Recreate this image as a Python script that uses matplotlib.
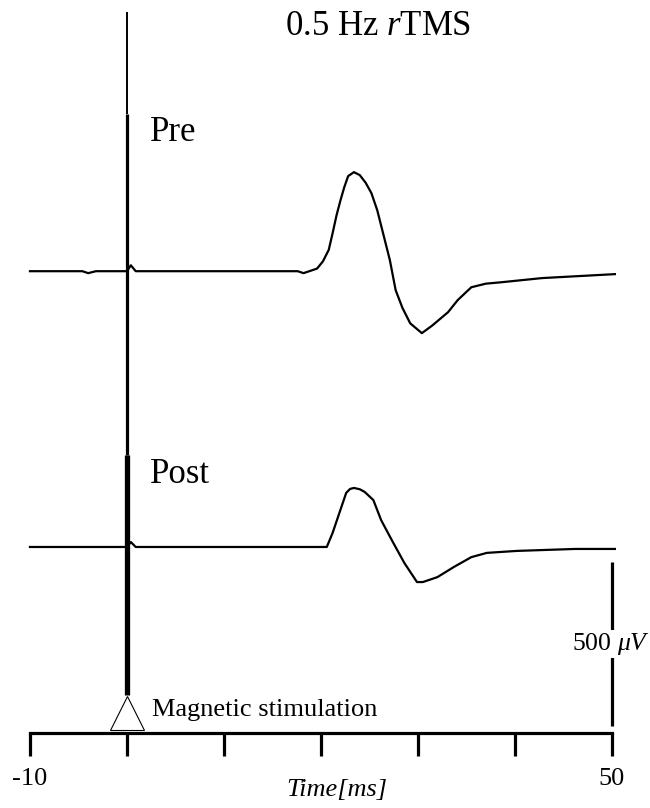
import numpy as np
import matplotlib
matplotlib.use("Agg")
import matplotlib.pyplot as plt

plt.rcParams['font.family'] = ['Liberation Serif', 'DejaVu Serif']
plt.rcParams['mathtext.fontset'] = 'custom'
plt.rcParams['mathtext.rm'] = 'Liberation Serif'
plt.rcParams['mathtext.it'] = 'Liberation Serif:italic'

# MEP traces (time in ms, amplitude in uV, relative to own baseline)
pre_t = [-10, -4.6, -4.0, -3.2, 0, 0.4, 0.9, 17.6, 18.2, 18.8, 19.6, 20.2, 20.8,
         21.2, 21.6, 22.0, 22.4, 22.8, 23.4, 24.0, 24.6, 25.2, 25.8, 26.4, 27.1,
         27.7, 28.4, 29.2, 30.4, 31.5, 32.3, 33.1, 34.1, 35.5, 37.0, 38.5, 42.8, 50.3]
pre_uv = [0, 0, -6, 0, 0, 18, 0, 0, -6, 0, 8, 30, 65,
          116, 170, 215, 256, 290, 302, 293, 270, 238, 186, 116, 34,
          -58, -112, -159, -189, -165, -145, -125, -88, -49, -38, -34, -21, -9]

post_t = [-10, 0, 0.4, 0.9, 20.6, 21.2, 21.9, 22.6, 23.0, 23.4, 24.0, 24.5, 25.4,
          26.2, 27.3, 28.6, 29.9, 30.5, 32.0, 33.7, 35.5, 37.1, 40.2, 46.2, 50.3]
post_uv = [0, 0, 15, 0, 0, 43, 104, 165, 177, 180, 176, 168, 143,
           82, 21, -49, -107, -107, -92, -61, -31, -18, -12, -6, -6]

pre_offset = 841      # vertical offset of the Pre trace (uV)
post_offset = 0
axis_level = -567     # where the time axis sits
xticks = [-10, 0, 10, 20, 30, 40, 50]
xticklabels = ['-10', '', '', '', '', '', '50']

# stimulus artifact: level boundaries and line widths of each piece
stim_levels = [1630, 1320, 280, -451]
stim_widths = [1.4, 2.3, 3.8]

scale_uv = 500
scale_bottom = -546

fig = plt.figure(figsize=(6.5, 8.08), dpi=100)
ax = fig.add_axes([0, 0, 1, 1])
ax.set_xlim(-13.09, 53.92)
ax.set_ylim(-796, 1668)

ax.plot(pre_t, np.array(pre_uv) + pre_offset, color='black', lw=1.6)
ax.plot(post_t, np.array(post_uv) + post_offset, color='black', lw=1.6)

for i in range(len(stim_widths)):
    ax.vlines(0, stim_levels[i + 1], stim_levels[i], color='black', lw=stim_widths[i])

# stimulus marker
ax.plot(0, -506, marker='^', markersize=25, mfc='white', mec='black', mew=0.8,
        zorder=5)
ax.text(2.58, -497, 'Magnetic stimulation', fontsize=19, va='center', ha='left')

# scale bar
ax.vlines(50, scale_bottom, scale_bottom + scale_uv, color='black', lw=2.3)
ax.text(49.9, scale_bottom + scale_uv / 2, r'500 $\mu V$', fontsize=18.5,
        ha='center', va='center',
        bbox=dict(facecolor='white', edgecolor='none', pad=1))

# labels
ax.text(25.9, 1588, r'0.5 Hz $r$TMS', fontsize=25, ha='center', va='center')
ax.text(2.37, 1265, 'Pre', fontsize=25, ha='left', va='center')
ax.text(2.37, 220, 'Post', fontsize=25, ha='left', va='center')
ax.text(21.6, -741, 'Time[ms]', fontsize=19, style='italic', ha='center',
        va='center')

# time axis
for s in ['top', 'left', 'right']:
    ax.spines[s].set_visible(False)
ax.spines['bottom'].set_position(('data', axis_level))
ax.spines['bottom'].set_bounds(-10, 50)
ax.spines['bottom'].set_linewidth(2.3)
ax.set_xticks(xticks)
ax.set_xticklabels(xticklabels)
ax.tick_params(axis='x', direction='out', length=16.5, width=2.3, pad=9,
               labelsize=19)
ax.set_yticks([])

fig.savefig('out.png', dpi=100)
